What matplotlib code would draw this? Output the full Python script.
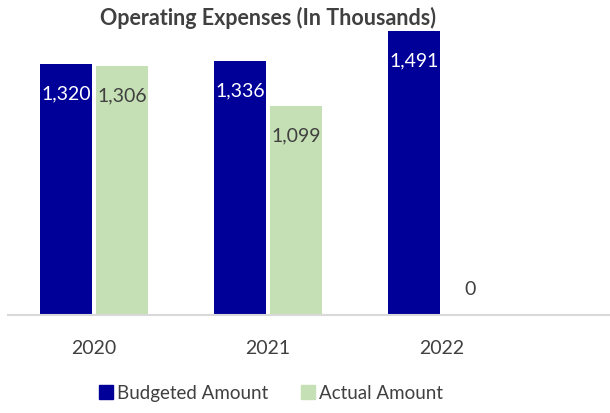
import matplotlib.pyplot as plt
from matplotlib.patches import Patch
import numpy as np

years = ["2020", "2021", "2022"]
budgeted = [1320, 1336, 1491]
actual = [1306, 1099, 0]

navy = "#000099"
green = "#C5E0B4"
grey = "#404040"

plt.rcParams["font.family"] = ["Lato", "DejaVu Sans"]

W, H = 610, 414
fig = plt.figure(figsize=(W / 100, H / 100), dpi=100)
# plot area placed in pixel terms
ax = fig.add_axes([8 / W, (H - 316) / H, (610 - 8) / W, 300 / H])

x = np.arange(len(years))
bw = 0.30
off = 0.16
b1 = ax.bar(x - off, budgeted, bw, color=navy)
b2 = ax.bar(x + off, actual, bw, color=green)

for bars, vals, col in [(b1, budgeted, "white"), (b2, actual, grey)]:
    for r, v in zip(bars, vals):
        dy = -29 if v > 0 else 26
        ax.annotate(f"{v:,}", (r.get_x() + r.get_width() / 2, v),
                    xytext=(0, dy), textcoords="offset pixels",
                    ha="center", va="center", color=col, fontsize=14)

ax.set_xlim(-0.494, 2.966)
ax.set_ylim(0, 1575)
ax.set_yticks([])
ax.set_xticks(x)
ax.set_xticklabels(years, fontsize=14, color=grey)
ax.tick_params(axis="x", length=0, pad=17)
for s in ["top", "right", "left"]:
    ax.spines[s].set_visible(False)
ax.spines["bottom"].set_color("#D9D9D9")
ax.spines["bottom"].set_linewidth(1.5)

fig.text(268 / W, 1 - 18 / H, "Operating Expenses (In Thousands)",
         ha="center", va="center", fontsize=15.5, fontweight="bold", color=grey)

handles = [Patch(color=navy, label="Budgeted Amount"),
           Patch(color=green, label="Actual Amount")]
fig.legend(handles=handles, loc="center", bbox_to_anchor=(271 / W, 1 - 394 / H),
           ncol=2, frameon=False, fontsize=13.5, labelcolor=grey,
           handlelength=0.75, handleheight=0.75, handletextpad=0.25,
           columnspacing=1.7)

fig.savefig("out.png", dpi=100)
